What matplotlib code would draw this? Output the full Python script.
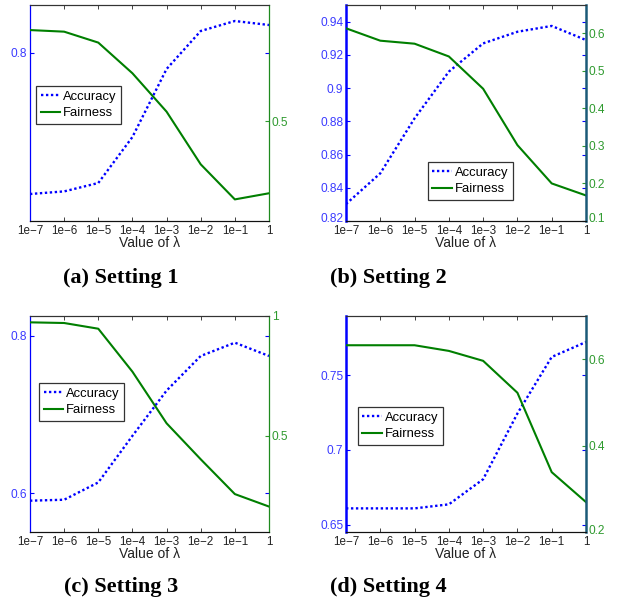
import matplotlib
matplotlib.use("Agg")
import matplotlib.pyplot as plt
from matplotlib.transforms import ScaledTranslation

plt.rcParams['font.family'] = ['Liberation Sans', 'DejaVu Sans']

lambdas = [1e-7, 1e-6, 1e-5, 1e-4, 1e-3, 1e-2, 1e-1, 1]
xtick_labels = ['1e\u22127', '1e\u22126', '1e\u22125', '1e\u22124', '1e\u22123', '1e\u22122', '1e\u22121', '1']

acc_1 = [0.7295, 0.7308, 0.735, 0.758, 0.792, 0.811, 0.816, 0.814]
fair_1 = [0.841, 0.835, 0.794, 0.679, 0.535, 0.3375, 0.206, 0.229]
acc_2 = [0.8302, 0.8487, 0.8818, 0.9099, 0.9269, 0.9339, 0.9374, 0.9289]
fair_2 = [0.613, 0.580, 0.572, 0.538, 0.452, 0.302, 0.200, 0.168]
acc_3 = [0.5903, 0.5915, 0.6135, 0.6727, 0.7302, 0.7742, 0.7911, 0.7742]
fair_3 = [0.9736, 0.9708, 0.947, 0.768, 0.553, 0.403, 0.258, 0.206]
acc_4 = [0.6609, 0.6609, 0.6609, 0.6636, 0.6804, 0.7244, 0.7622, 0.7722]
fair_4 = [0.6323, 0.6323, 0.6323, 0.6192, 0.5962, 0.5223, 0.3385, 0.2692]

captions = ['(a) Setting 1', '(b) Setting 2', '(c) Setting 3', '(d) Setting 4']

W, H = 618, 602
fig = plt.figure(figsize=(W / 100, H / 100), dpi=100)

BLUE = '#0000ff'
BLUE_TXT = '#3a3aff'
GREEN = '#007f00'
GREEN_TXT = '#2e9a2e'
TEAL = '#1b5a78'

panels = [
    dict(box=(30, 5, 269, 221), acc=acc_1, fair=fair_1,
         ylim_l=(0.716, 0.824), yt_l=[0.8], ylim_r=(0.125, 0.935), yt_r=[0.5],
         thick=False, leg=(0.025, 0.625), cap=(121, 278)),
    dict(box=(346, 5, 586, 221), acc=acc_2, fair=fair_2,
         ylim_l=(0.82, 0.95), yt_l=[0.82, 0.84, 0.86, 0.88, 0.9, 0.92, 0.94],
         ylim_r=(0.1, 0.675), yt_r=[0.1, 0.2, 0.3, 0.4, 0.5, 0.6],
         thick=True, leg=(0.341, 0.273), cap=(388, 278)),
    dict(box=(30, 316, 269, 532), acc=acc_3, fair=fair_3,
         ylim_l=(0.5505, 0.825), yt_l=[0.6, 0.8], ylim_r=(0.1, 1.0), yt_r=[0.5, 1.0],
         thick=False, leg=(0.038, 0.69), cap=(121, 587)),
    dict(box=(346, 316, 586, 532), acc=acc_4, fair=fair_4,
         ylim_l=(0.6451, 0.7896), yt_l=[0.65, 0.7, 0.75],
         ylim_r=(0.2, 0.7), yt_r=[0.2, 0.4, 0.6],
         thick=True, leg=(0.049, 0.579), cap=(388, 587)),
]


def fmt(v):
    return '%g' % v


for i, p in enumerate(panels):
    x0, y0, x1, y1 = p['box']
    ax = fig.add_axes([x0 / W, (H - y1) / H, (x1 - x0) / W, (y1 - y0) / H])
    ax2 = ax.twinx()
    l1, = ax.plot(lambdas, p['acc'], color=BLUE, lw=1.7, linestyle=(0, (1, 1.1)),
                  label='Accuracy', zorder=3)
    l2, = ax2.plot(lambdas, p['fair'], color=GREEN, lw=1.5, label='Fairness')
    ax.set_xscale('log')
    ax.set_xlim(1e-7, 1)
    ax.set_xticks(lambdas)
    ax.set_xticklabels(xtick_labels)
    ax.xaxis.set_minor_locator(matplotlib.ticker.NullLocator())
    ax.set_ylim(*p['ylim_l'])
    ax.set_yticks(p['yt_l'])
    ax.set_yticklabels([fmt(v) for v in p['yt_l']])
    ax2.set_ylim(*p['ylim_r'])
    ax2.set_yticks(p['yt_r'])
    ax2.set_yticklabels([fmt(v) for v in p['yt_r']])

    ax.tick_params(axis='x', direction='in', length=3, width=0.6, colors='#222222',
                   labelsize=8.4, pad=3, top=True)
    ax.tick_params(axis='y', direction='in', length=3, width=0.8, colors=BLUE,
                   labelcolor=BLUE_TXT, labelsize=8.6, pad=2, right=True)
    ax2.tick_params(axis='y', direction='in', length=3, width=0.8, colors=GREEN_TXT,
                    labelcolor=GREEN_TXT, labelsize=8.6, pad=2)
    ax.set_xlabel('Value of \u03bb', fontsize=10, labelpad=-1, color='#222222')

    # nudge tick labels sitting exactly on the bottom edge so they do not collide
    shift = ScaledTranslation(0, 3 / 100, fig.dpi_scale_trans)
    if p['yt_l'][0] == p['ylim_l'][0]:
        lab = ax.get_yticklabels()[0]
        lab.set_transform(lab.get_transform() + shift)
    if p['yt_r'][0] == p['ylim_r'][0]:
        lab = ax2.get_yticklabels()[0]
        lab.set_transform(lab.get_transform() + shift)

    lw_side = 1.8 if p['thick'] else 0.9
    ax.spines['left'].set_color(BLUE)
    ax.spines['left'].set_linewidth(lw_side)
    ax2.spines['left'].set_visible(False)
    ax.spines['right'].set_visible(False)
    ax2.spines['right'].set_color(TEAL if p['thick'] else '#1e8a1e')
    ax2.spines['right'].set_linewidth(lw_side)
    for a in (ax, ax2):
        a.spines['top'].set_color('#333333')
        a.spines['bottom'].set_color('#111111')
        a.spines['top'].set_linewidth(0.8)
        a.spines['bottom'].set_linewidth(0.8)

    leg = ax2.legend([l1, l2], ['Accuracy', 'Fairness'], loc='upper left',
                     bbox_to_anchor=p['leg'], fontsize=9.4, frameon=True,
                     fancybox=False, borderpad=0.35, handlelength=1.5,
                     handletextpad=0.2, labelspacing=0.35, borderaxespad=0)
    leg.get_frame().set_edgecolor('black')
    leg.get_frame().set_linewidth(0.9)

    cx, cy = p['cap']
    fig.text(cx / W, 1 - cy / H, captions[i], ha='center', va='center',
             fontsize=16, fontweight='bold', family=['Liberation Serif', 'DejaVu Serif'])

fig.savefig('out.png', dpi=100)
